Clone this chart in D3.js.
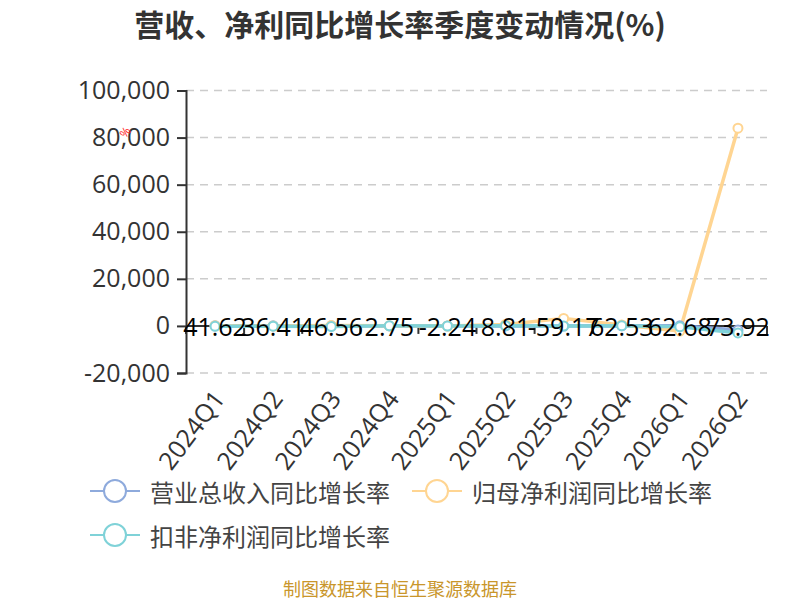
<!DOCTYPE html>
<html><head><meta charset="utf-8">
<script src="https://cdn.jsdelivr.net/npm/d3@7/dist/d3.min.js"></script>
<style>body{margin:0;background:#fff}svg{display:block}</style>
</head><body>
<svg id="c" width="800" height="600"></svg>
<script>
const categories = ["2024Q1","2024Q2","2024Q3","2024Q4","2025Q1","2025Q2","2025Q3","2025Q4","2026Q1","2026Q2"];
const zeroAxisLabels = ["41.62","36.41","46.56","2.75","-2.24","8.81","-59.17","62.53","62.68","73.92"];
const revenueGrowth = [41.62, 36.41, 46.56, 2.75, -2.24, 8.81, -59.17, 62.53, 62.68, -1700];
const netProfitGrowth = [120, -80, 150, 60, -40, 600, 3200, 400, -2200, 84000];
const deductedGrowth = [-150, -100, -260, 40, -30, 120, -80, 90, -400, -3000];
const yTicks = [-20000, 0, 20000, 40000, 60000, 80000, 100000];
const seriesNames = ["营业总收入同比增长率","归母净利润同比增长率","扣非净利润同比增长率"];
const colors = ["#8eaadc","#ffd592","#7fd2d8"];

const svg = d3.select("#c");
const numFont = "'Open Sans','Noto Sans CJK SC',sans-serif";
const cjkFont = "'Noto Sans CJK SC','Noto Sans',sans-serif";

const x = d3.scaleBand().domain(categories).range([186, 767]);
const y = d3.scaleLinear().domain([-20000, 100000]).range([373, 90.5]);
const xc = d => x(d) + x.bandwidth() / 2;
const fmt = v => d3.format(",")(v).replace("\u2212", "-");

// title
svg.append("text").attr("x", 400).attr("y", 23).attr("text-anchor", "middle")
  .attr("dominant-baseline", "central").attr("font-family", cjkFont)
  .attr("font-size", 30).attr("font-weight", "bold").attr("fill", "#333")
  .text("营收、净利同比增长率季度变动情况(%)");

// grid lines
svg.append("g").selectAll("line").data(yTicks.filter(v => v !== 0)).join("line")
  .attr("x1", 186).attr("x2", 767).attr("y1", d => y(d)).attr("y2", d => y(d))
  .attr("stroke", "#cccccc").attr("stroke-width", 1.5).attr("stroke-dasharray", "8,6");

// y axis
const yAxis = svg.append("g").attr("transform", "translate(186,0)")
  .call(d3.axisLeft(y).tickValues(yTicks).tickSize(9).tickPadding(7).tickFormat(fmt));
yAxis.select(".domain").attr("stroke", "#333").attr("stroke-width", 2);
yAxis.selectAll(".tick line").attr("stroke", "#333").attr("stroke-width", 2);
yAxis.selectAll(".tick text").attr("font-family", numFont).attr("font-size", 25).attr("fill", "#333");

// y axis name
svg.append("text").attr("transform", "translate(125,132) rotate(-55)")
  .attr("text-anchor", "middle").attr("dominant-baseline", "central")
  .attr("font-family", numFont).attr("font-size", 12).attr("fill", "#ff2020").text("%");

// x axis at zero
const y0 = y(0);
svg.append("line").attr("x1", 186).attr("x2", 767).attr("y1", y0).attr("y2", y0)
  .attr("stroke", "#333").attr("stroke-width", 2);
const bounds = categories.map(c => x(c)).concat([x.range()[1]]);
svg.append("g").selectAll("line").data(bounds).join("line")
  .attr("x1", d => d).attr("x2", d => d).attr("y1", y0).attr("y2", y0 + 8)
  .attr("stroke", "#333").attr("stroke-width", 2);

// lines
const allSeries = [revenueGrowth, netProfitGrowth, deductedGrowth];
const line = d3.line().x((d, i) => xc(categories[i])).y(d => y(d));
allSeries.forEach((s, k) => {
  svg.append("path").datum(s).attr("d", line).attr("fill", "none")
    .attr("stroke", colors[k]).attr("stroke-width", 3.5).attr("stroke-linejoin", "round");
});
allSeries.forEach((s, k) => {
  svg.append("g").selectAll("circle").data(s).join("circle")
    .attr("cx", (d, i) => xc(categories[i])).attr("cy", d => y(d)).attr("r", 4.5)
    .attr("fill", "#fff").attr("stroke", colors[k]).attr("stroke-width", 2);
});

// zero-axis labels
svg.append("g").selectAll("text").data(categories).join("text")
  .attr("x", d => xc(d)).attr("y", y0).attr("text-anchor", "middle")
  .attr("dominant-baseline", "central").attr("font-family", numFont)
  .attr("font-size", 25).attr("fill", "#000")
  .text((d, i) => zeroAxisLabels[i]);

// rotated category labels
svg.append("g").selectAll("text").data(categories).join("text")
  .attr("transform", d => `translate(${xc(d) + 3},${393}) rotate(-53)`)
  .attr("text-anchor", "end").attr("dominant-baseline", "central")
  .attr("font-family", numFont).attr("font-size", 25).attr("fill", "#333")
  .text(d => d);

// legend
const legendPos = [[90, 491], [412, 491], [90, 535]];
seriesNames.forEach((name, k) => {
  const [lx, ly] = legendPos[k];
  const g = svg.append("g");
  g.append("line").attr("x1", lx).attr("x2", lx + 50).attr("y1", ly).attr("y2", ly)
    .attr("stroke", colors[k]).attr("stroke-width", 2);
  g.append("circle").attr("cx", lx + 25).attr("cy", ly).attr("r", 11)
    .attr("fill", "#fff").attr("stroke", colors[k]).attr("stroke-width", 2);
  g.append("text").attr("x", lx + 60).attr("y", ly).attr("dominant-baseline", "central")
    .attr("font-family", cjkFont).attr("font-size", 24).attr("fill", "#444").text(name);
});

// footer
svg.append("text").attr("x", 400).attr("y", 596).attr("text-anchor", "middle")
  .attr("font-family", cjkFont)
  .attr("font-size", 18).attr("fill", "#c9962b").text("制图数据来自恒生聚源数据库");
</script>
</body></html>
